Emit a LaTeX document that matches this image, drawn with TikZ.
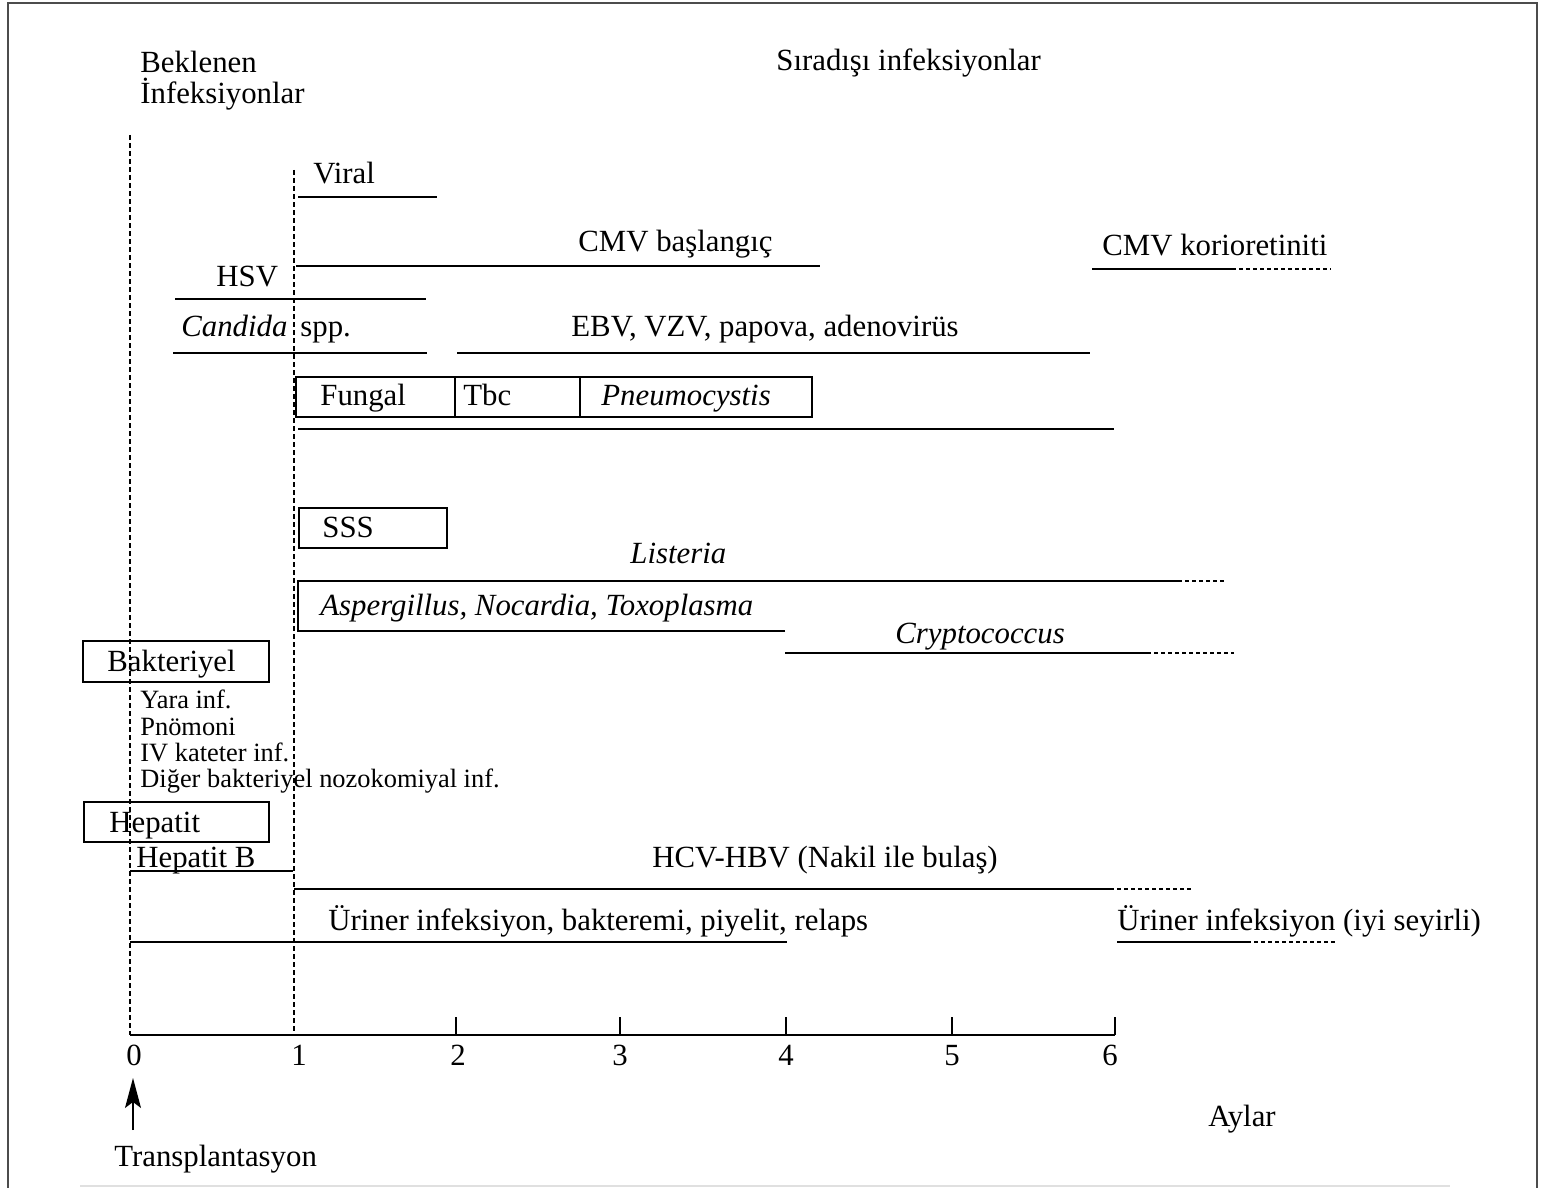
\documentclass[tikz,border=0pt]{standalone}
\usepackage{fontspec}
\setmainfont{Liberation Serif}
\usetikzlibrary{arrows.meta}

\tikzset{
  lbl/.style={anchor=base west,inner sep=0pt,font=\fontsize{15.4}{15.5}\selectfont},
  sml/.style={anchor=base west,inner sep=0pt,font=\fontsize{13.2}{13.2}\selectfont},
  num/.style={anchor=base,inner sep=0pt,font=\fontsize{15.4}{15.5}\selectfont},
  bar/.style={line width=1pt},
  tail/.style={line width=0.8pt,dash pattern=on 2pt off 1.5pt},
  guide/.style={line width=0.6pt,dash pattern=on 2.5pt off 1.5pt},
  kutu/.style={line width=0.8pt}
}

\begin{document}
\begin{tikzpicture}[x=0.5pt,y=-0.5pt,>={Stealth[length=15pt,width=8pt,inset=3pt]}]
\useasboundingbox (0,0) rectangle (1548,1188);
% cerceve
\draw[line width=1.2pt,black!70] (8,1188) -- (8,3) -- (1537,3) -- (1537,1188);
\draw[line width=1pt,black!12] (80,1186) -- (1450,1186);

% basliklar
\node[lbl] (bek1) at (140,73) {Beklenen};
\node[lbl] (bek2) at (140,104) {İnfeksiyonlar};
\node[lbl] (sira) at (776,71) {Sıradışı infeksiyonlar};

% 0. ve 1. ay
\draw[guide] (130,135) -- (130,1035);
\draw[guide] (294,170) -- (294,1035);

% viral
\node[lbl] (viral) at (313,184) {Viral};
\draw[bar] (298,197) -- (437,197);
\node[lbl] (cmvb) at (578,251) {CMV başlangıç};
\draw[bar] (296,266) -- (820,266);
\node[lbl] (cmvk) at (1102,256) {CMV korioretiniti};
\draw[bar] (1092,269) -- (1232,269);
\draw[tail] (1232,269) -- (1331,269);
\node[lbl] (hsv) at (216,286) {HSV};
\draw[bar] (175,299) -- (426,299);
\node[lbl] (cand) at (181,336) {\itshape Candida};
\node[lbl] (spp) at (300,336) {spp.};
\draw[bar] (173,353) -- (427,353);
\node[lbl] (ebv) at (571,336) {EBV, VZV, papova, adenovirüs};
\draw[bar] (457,353) -- (1090,353);

% fungal kutusu
\draw[kutu] (296,377) rectangle (812,417);
\draw[kutu] (455,377) -- (455,417);
\draw[kutu] (580,377) -- (580,417);
\node[lbl] (fungal) at (320,405) {Fungal};
\node[lbl] (tbc) at (463,405) {Tbc};
\node[lbl] (pneu) at (601,405) {\itshape Pneumocystis};
\draw[bar] (298,429) -- (1114,429);

% SSS
\draw[kutu] (299,508) rectangle (447,548);
\node[lbl] (sss) at (322,537) {SSS};
\node[lbl] (listeria) at (630,563) {\itshape Listeria};
\draw[bar] (785,631) -- (298,631) -- (298,581) -- (1178,581);
\draw[tail] (1178,581) -- (1226,581);
\node[lbl] (asp) at (320,615) {\itshape Aspergillus, Nocardia, Toxoplasma};
\node[lbl] (crypto) at (895,643) {\itshape Cryptococcus};
\draw[bar] (785,653) -- (1147,653);
\draw[tail] (1147,653) -- (1234,653);

% bakteriyel
\draw[kutu] (83,641) rectangle (269,682);
\node[lbl] (bakt) at (107,671) {Bakteriyel};
\node[sml] (yara) at (140,708) {Yara inf.};
\node[sml] (pnom) at (140,735) {Pnömoni};
\node[sml] (kat) at (140,761) {IV kateter inf.};
\node[sml] (diger) at (140,787) {Diğer bakteriyel nozokomiyal inf.};

% hepatit
\draw[kutu] (84,802) rectangle (269,842);
\node[lbl] (hep) at (109,832) {Hepatit};
\node[lbl] (hepb) at (136,867) {Hepatit B};
\draw[bar] (130,871) -- (293,871);
\node[lbl] (hcv) at (652,867) {HCV-HBV (Nakil ile bulaş)};
\draw[bar] (294,889) -- (1110,889);
\draw[tail] (1110,889) -- (1192,889);

% uriner
\node[lbl] (uri1) at (328,930) {Üriner infeksiyon, bakteremi, piyelit, relaps};
\draw[bar] (130,942) -- (787,942);
\node[lbl] (uri2) at (1117,930) {Üriner infeksiyon (iyi seyirli)};
\draw[bar] (1117,942) -- (1247,942);
\draw[tail] (1247,942) -- (1337,942);

% eksen
\draw[bar] (130,1035) -- (1115,1035);
\draw[line width=0.8pt] (456,1035) -- (456,1017)
                        (620,1035) -- (620,1017)
                        (786,1035) -- (786,1017)
                        (952,1035) -- (952,1017)
                        (1115,1035) -- (1115,1017);
\node[num] (n0) at (134,1065) {0};
\node[num] (n1) at (299,1065) {1};
\node[num] (n2) at (458,1065) {2};
\node[num] (n3) at (620,1065) {3};
\node[num] (n4) at (786,1065) {4};
\node[num] (n5) at (952,1065) {5};
\node[num] (n6) at (1110,1065) {6};

\node[lbl] (aylar) at (1208,1126) {Aylar};
\node[lbl] (trans) at (114,1166) {Transplantasyon};
\coordinate (ok0) at (133,1130);
\coordinate (ok1) at (133,1078);
\draw[->,line width=0.6pt] (ok0) -- (ok1);
\end{tikzpicture}
\end{document}
